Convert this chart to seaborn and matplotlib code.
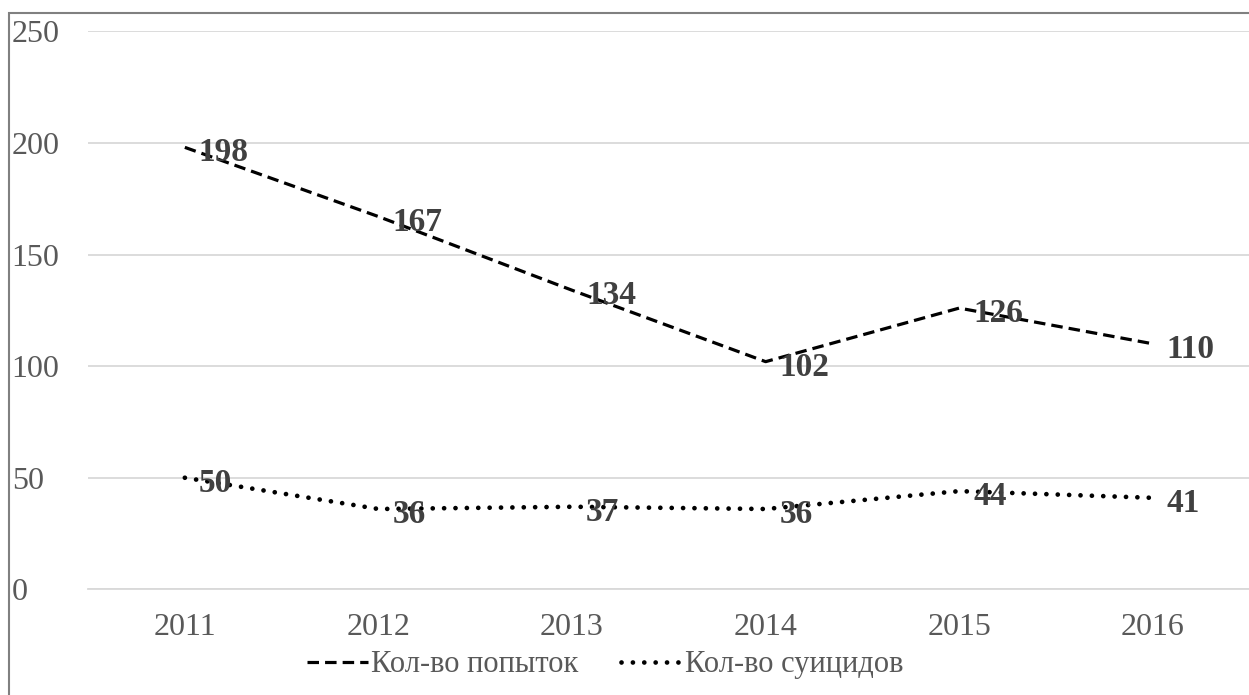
import pandas as pd
import seaborn as sns
import matplotlib.pyplot as plt
from matplotlib.patches import Rectangle

years = ['2011', '2012', '2013', '2014', '2015', '2016']
attempts = [198, 167, 134, 102, 126, 110]
suicides = [50, 36, 37, 36, 44, 41]
names = ['Кол-во попыток', 'Кол-во суицидов']

sns.set_style('white')
plt.rcParams['font.family'] = ['Liberation Serif', 'DejaVu Serif']

df = pd.DataFrame({'year': years, 'attempts': attempts, 'suicides': suicides})

fig = plt.figure(figsize=(12.49, 6.95), dpi=100)
ax = fig.add_axes([0.0705, 0.152, 0.93, 0.803])

sns.lineplot(data=df, x='year', y='attempts', ax=ax, color='black', lw=2.3,
             linestyle=(0, (3.6, 1.9)), dash_capstyle='butt', sort=False,
             label=names[0])
sns.lineplot(data=df, x='year', y='suicides', ax=ax, color='black', lw=3.4,
             linestyle=(0, (0.01, 2.4)), dash_capstyle='round', sort=False,
             label=names[1])

for i, (a, s) in enumerate(zip(attempts, suicides)):
    for v in (a, s):
        ax.annotate(str(v), (i, v), xytext=(10, -4), textcoords='offset points',
                    ha='left', va='center', fontsize=24, fontweight='bold',
                    color='#404040')

ax.set_xlim(-0.5, 5.5)
ax.set_ylim(0, 250)
ax.set_yticks([0, 50, 100, 150, 200, 250])
ax.yaxis.grid(True, color='#d9d9d9', lw=1.3)
ax.xaxis.grid(False)
for sp in ax.spines.values():
    sp.set_visible(False)
ax.spines['bottom'].set_visible(True)
ax.spines['bottom'].set_color('#d9d9d9')
ax.spines['bottom'].set_linewidth(1.3)
ax.tick_params(axis='both', length=0, labelsize=23, labelcolor='#595959')
ax.tick_params(axis='y', pad=55)
for t in ax.get_yticklabels():
    t.set_horizontalalignment('left')
ax.tick_params(axis='x', pad=17)
ax.set_xlabel('')
ax.set_ylabel('')

leg = ax.legend(loc='upper center', bbox_to_anchor=(0.445, -0.06), ncol=2,
                frameon=False, fontsize=22, handlelength=2.0, handletextpad=0.1,
                columnspacing=1.4)
for t in leg.get_texts():
    t.set_color('#595959')

fig.patches.append(Rectangle((9 / 1249, -0.01), 1.1, 1 - 13 / 695 + 0.01,
                             transform=fig.transFigure, fill=False,
                             edgecolor='#808080', lw=1.5))

fig.savefig('out.png', dpi=100)
